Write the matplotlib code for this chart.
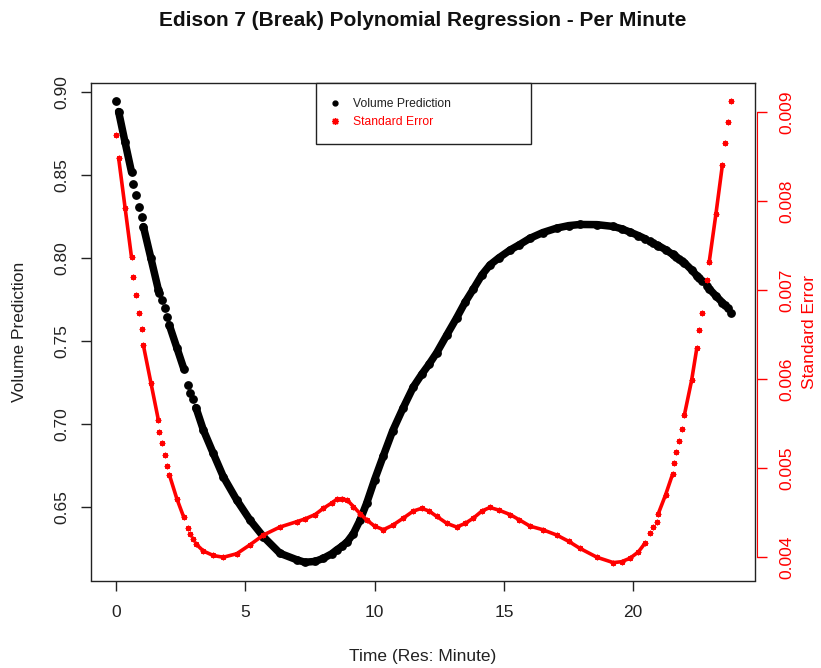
import numpy as np
import matplotlib
matplotlib.use("Agg")
import matplotlib.pyplot as plt
from matplotlib.lines import Line2D

plt.rcParams['font.family'] = ['Liberation Sans', 'DejaVu Sans']

# Time (hours, minute resolution) grouped into runs of contiguous minutes
run_hours = [
    [0.00],
    [0.10, 0.35, 0.60],
    [0.67], [0.78], [0.89], [0.99],
    [1.06, 1.35, 1.64],
    [1.68], [1.77], [1.89], [1.98],
    [2.06, 2.35, 2.62],
    [2.77], [2.86], [2.97],
    [3.09, 3.38, 3.76, 4.15, 4.67, 5.18, 5.70, 6.34, 6.99, 7.30, 7.70, 8.02,
     8.34, 8.53, 8.75, 8.95, 9.18, 9.44, 9.69, 10.00, 10.34, 10.70, 11.11,
     11.50, 11.82, 12.10, 12.40, 12.80, 13.17, 13.50, 13.82, 14.15, 14.46,
     14.80, 15.24, 15.60, 16.01, 16.50, 17.04, 17.50, 17.94, 18.60, 19.23,
     19.55, 19.88, 20.20, 20.46],
    [20.65], [20.78], [20.91],
    [20.97, 21.25, 21.53],
    [21.58], [21.66], [21.77], [21.88],
    [21.98, 22.26, 22.46],
    [22.56], [22.65], [22.84],
    [22.94, 23.20, 23.45],
    [23.55], [23.65], [23.77],
]

# predicted volume (left axis)
run_volume = [
    [0.8951],
    [0.8885, 0.8700, 0.8520],
    [0.8446], [0.8380], [0.8311], [0.8247],
    [0.8191, 0.8000, 0.7809],
    [0.7790], [0.7750], [0.7698], [0.7644],
    [0.7598, 0.7462, 0.7335],
    [0.7236], [0.7189], [0.7150],
    [0.7100, 0.6964, 0.6824, 0.6683, 0.6542, 0.6422, 0.6321, 0.6221, 0.6182,
     0.6167, 0.6172, 0.6191, 0.6218, 0.6241, 0.6265, 0.6292, 0.6340, 0.6422,
     0.6522, 0.6665, 0.6810, 0.6960, 0.7100, 0.7225, 0.7300, 0.7360, 0.7430,
     0.7540, 0.7640, 0.7735, 0.7815, 0.7900, 0.7960, 0.8002, 0.8050, 0.8082,
     0.8121, 0.8155, 0.8182, 0.8197, 0.8204, 0.8203, 0.8192, 0.8178, 0.8158,
     0.8137, 0.8118],
    [0.8104], [0.8093], [0.8082],
    [0.8077, 0.8052, 0.8023],
    [0.8018], [0.8009], [0.7998], [0.7986],
    [0.7973, 0.7930, 0.7895],
    [0.7880], [0.7865], [0.7833],
    [0.7816, 0.7773, 0.7733],
    [0.7717], [0.7700], [0.7670],
]

# standard error of the prediction (right axis)
run_stderr = [
    [0.00875],
    [0.00849, 0.00793, 0.00737],
    [0.00715], [0.00695], [0.00675], [0.00656],
    [0.00638, 0.00596, 0.00554],
    [0.00541], [0.00528], [0.00515], [0.00503],
    [0.00493, 0.00466, 0.00445],
    [0.00433], [0.00426], [0.00421],
    [0.00415, 0.00407, 0.00402, 0.00400, 0.00404, 0.00414, 0.00425, 0.00434,
     0.00440, 0.00443, 0.00448, 0.00455, 0.00461, 0.00465, 0.00466, 0.00464,
     0.00457, 0.00449, 0.00442, 0.00435, 0.00431, 0.00436, 0.00444, 0.00452,
     0.00455, 0.00452, 0.00446, 0.00438, 0.00434, 0.00438, 0.00444, 0.00452,
     0.00456, 0.00453, 0.00448, 0.00442, 0.00435, 0.00431, 0.00425, 0.00418,
     0.00410, 0.00400, 0.00394, 0.00395, 0.00399, 0.00406, 0.00416],
    [0.00427], [0.00434], [0.00440],
    [0.00449, 0.00470, 0.00494],
    [0.00506], [0.00518], [0.00531], [0.00544],
    [0.00560, 0.00599, 0.00635],
    [0.00655], [0.00674], [0.00712],
    [0.00732, 0.00786, 0.00841],
    [0.00866], [0.00889], [0.00913],
]

x_ticks = [0, 5, 10, 15, 20]
vol_ticks = [0.65, 0.70, 0.75, 0.80, 0.85, 0.90]
se_ticks = [0.004, 0.005, 0.006, 0.007, 0.008, 0.009]

W, H = 821, 668
fig = plt.figure(figsize=(W / 100, H / 100), dpi=100)
# plot region in pixels: left 91, right 755, top 82.7, bottom 580.5
ax = fig.add_axes([91 / W, (H - 580.5) / H, 664 / W, 497.8 / H])

for h, v in zip(run_hours, run_volume):
    ax.plot(h, v, color='black', lw=5.4, marker='o', ms=5.3,
            solid_capstyle='round', zorder=2)

ax.set_xlim(-0.967, 24.71)
ax.set_ylim(0.6057, 0.9059)
ax.set_xticks(x_ticks)
ax.set_xticklabels([str(t) for t in x_ticks])
ax.set_yticks(vol_ticks)
ax.set_yticklabels(['%.2f' % t for t in vol_ticks], rotation=90, va='center')
ax.tick_params(axis='both', direction='out', length=7.2, width=1.0,
               labelsize=12.5, color='#222222', labelcolor='#222222')
ax.tick_params(axis='x', pad=10.5)
ax.tick_params(axis='y', pad=8.5)
for s in ax.spines.values():
    s.set_color('#222222')
    s.set_linewidth(1.0)

# second axis for standard error
ax2 = ax.twinx()
# spine placement first: moving a spine resets the ticks
ax2.spines['right'].set_color('red')
ax2.spines['right'].set_position(('outward', 1.5))
ax2.spines['right'].set_bounds(0.004, 0.009)
for side in ['left', 'top', 'bottom']:
    ax2.spines[side].set_visible(False)

for h, e in zip(run_hours, run_stderr):
    ax2.plot(h, e, color='red', lw=2.6, marker=(8, 2, 0), ms=4.0, mew=0.9,
             solid_capstyle='round', zorder=3)
ax2.set_ylim(0.003739, 0.009333)
ax2.set_yticks(se_ticks)
ax2.set_yticklabels(['%.3f' % t for t in se_ticks])
ax2.tick_params(axis='y', direction='out', length=7.2, width=1.0, pad=9,
                labelsize=12.5, color='red', labelcolor='red')
for tick in ax2.yaxis.get_major_ticks():
    tick.label2.set_rotation(90)
    tick.label2.set_rotation_mode('default')
    tick.label2.set_va('center')
    tick.label2.set_ha('left')

# axis labels and title
ax.set_xlabel('Time (Res: Minute)', fontsize=12.5, color='#222222')
ax.xaxis.label.set_va('center')
ax.xaxis.set_label_coords(0.5, -(656 - 580.5) / 497.8)
ax.set_ylabel('Volume Prediction', fontsize=12.5, color='#222222')
ax.yaxis.label.set_va('center')
ax.yaxis.set_label_coords(-(91 - 20) / 664, 0.5)
ax2.set_ylabel('Standard Error', fontsize=12.5, color='red', rotation=90)
ax2.yaxis.label.set_va('center')
ax2.yaxis.set_label_coords((809 - 91) / 664, 0.5)

fig.text(423 / W, 1 - 21 / H, 'Edison 7 (Break) Polynomial Regression - Per Minute',
         ha='center', va='center', fontsize=15, fontweight='bold', color='#111111')

# legend
handles = [
    Line2D([], [], color='black', marker='o', ls='none', ms=3.5),
    Line2D([], [], color='red', marker=(8, 2, 0), ls='none', ms=5, mew=1.0),
]
leg = ax2.legend(handles, ['Volume Prediction', 'Standard Error'],
                 loc='upper left', bbox_to_anchor=(0.3389, 0.0, 0.3238, 1.0),
                 mode='expand', borderaxespad=0, fontsize=8.7, fancybox=False,
                 framealpha=1, edgecolor='#222222', borderpad=1.25,
                 handlelength=0.6, handletextpad=1.2, labelspacing=0.55)
leg.get_frame().set_linewidth(1.0)
for t, c in zip(leg.get_texts(), ['#222222', 'red']):
    t.set_color(c)

fig.savefig('out.png', dpi=100)
